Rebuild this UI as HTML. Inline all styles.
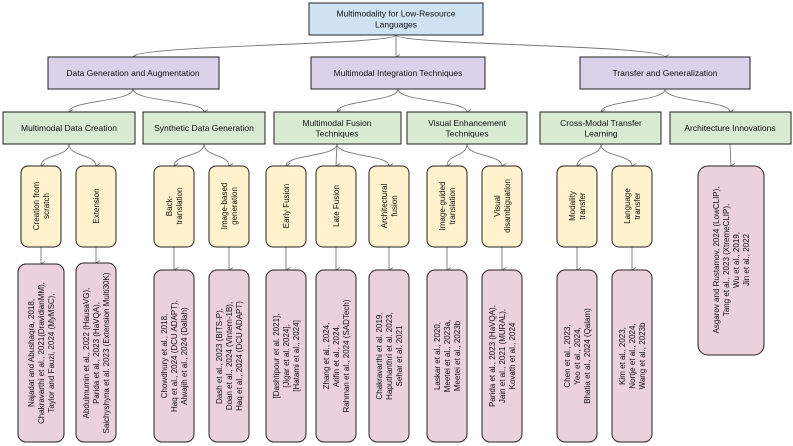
<!DOCTYPE html>
<html><head><meta charset="utf-8"><style>
html,body{margin:0;padding:0;background:#fff;}
svg{display:block;font-family:"Liberation Sans",Arial,sans-serif;}
text{font-size:8px;fill:#111;text-anchor:middle;}
.l2{font-size:8.5px;}
</style></head><body>
<svg width="793" height="446" viewBox="0 0 793 446" xmlns="http://www.w3.org/2000/svg">
<defs><marker id="a" markerWidth="6" markerHeight="6" refX="3" refY="5" orient="auto" markerUnits="userSpaceOnUse"><path d="M0.5,1 L3,5 L5.5,1" fill="none" stroke="#777" stroke-width="0.9"/></marker></defs>
<g fill="none" stroke="#777" stroke-width="0.9" marker-end="url(#a)">
<path d="M396,35 C396,45 133,45 133,57"/>
<path d="M396,35 L396,57"/>
<path d="M396,35 C396,45 665,45 665,57"/>
<path d="M133,89 C133,102 69,100 69,112"/>
<path d="M133,89 C133,102 204,100 204,112"/>
<path d="M398,89 C398,102 337,100 337,112"/>
<path d="M398,89 C398,102 467,100 467,112"/>
<path d="M665,89 C665,102 601,100 601,112"/>
<path d="M665,89 C665,102 730,100 730,112"/>
<path d="M69,144 C69,157 41,154 41,166"/>
<path d="M69,144 C69,157 96,154 96,166"/>
<path d="M204,144 C204,157 174,154 174,166"/>
<path d="M204,144 C204,157 229,154 229,166"/>
<path d="M337,144 C337,157 286,154 286,166"/>
<path d="M337,144 L336,166"/>
<path d="M337,144 C337,157 389,154 389,166"/>
<path d="M467,144 C467,157 447,154 447,166"/>
<path d="M467,144 C467,157 502,154 502,166"/>
<path d="M601,144 C601,157 577,154 577,166"/>
<path d="M601,144 C601,157 632,154 632,166"/>
<path d="M730,144 L731,166"/>
<path d="M41,247 L41,264"/><path d="M96,247 L96,263"/>
<path d="M174,247 L174,270"/><path d="M229,247 L229,270"/>
<path d="M286,247 L286,270"/><path d="M336,247 L336,270"/><path d="M389,247 L389,270"/>
<path d="M447,247 L447,270"/><path d="M502,247 L502,270"/>
<path d="M577,247 L577,270"/><path d="M632,247 L632,270"/>
</g>
<g stroke="#222" stroke-width="1">
<rect x="309" y="3" width="174" height="32" fill="#cfe2f3"/>
<rect x="48" y="57" width="171" height="32" fill="#d9d2e9"/>
<rect x="311" y="57" width="174" height="32" fill="#d9d2e9"/>
<rect x="580" y="57" width="170" height="32" fill="#d9d2e9"/>
<g fill="#d9ead3">
<rect x="3" y="112" width="132" height="32"/><rect x="143" y="112" width="122" height="32"/>
<rect x="274" y="112" width="127" height="32"/><rect x="407" y="112" width="120" height="32"/>
<rect x="540" y="112" width="121" height="32"/><rect x="670" y="112" width="121" height="32"/>
</g>
<g fill="#fff2cc">
<rect x="21" y="166" width="40" height="81" rx="7"/><rect x="76" y="166" width="40" height="81" rx="7"/>
<rect x="154" y="166" width="40" height="81" rx="7"/><rect x="209" y="166" width="40" height="81" rx="7"/>
<rect x="266" y="166" width="40" height="81" rx="7"/><rect x="316" y="166" width="40" height="81" rx="7"/>
<rect x="369" y="166" width="40" height="81" rx="7"/><rect x="427" y="166" width="40" height="81" rx="7"/>
<rect x="482" y="166" width="40" height="81" rx="7"/><rect x="557" y="166" width="40" height="81" rx="7"/>
<rect x="612" y="166" width="40" height="81" rx="7"/>
</g>
<g fill="#ead1dc">
<rect x="18" y="264" width="46" height="178" rx="8"/><rect x="76" y="263" width="40" height="179" rx="8"/>
<rect x="154" y="270" width="40" height="172" rx="8"/><rect x="209" y="270" width="40" height="172" rx="8"/>
<rect x="266" y="270" width="40" height="172" rx="8"/><rect x="316" y="270" width="40" height="172" rx="8"/>
<rect x="369" y="270" width="40" height="172" rx="8"/><rect x="427" y="270" width="40" height="172" rx="8"/>
<rect x="482" y="270" width="40" height="172" rx="8"/><rect x="557" y="270" width="40" height="172" rx="8"/>
<rect x="612" y="270" width="40" height="172" rx="8"/>
<rect x="698" y="166" width="66" height="189" rx="10"/>
</g>
</g>
<text x="396" y="16.5" class="l2">Multimodality for Low-Resource</text>
<text x="396" y="27.5" class="l2">Languages</text>
<text x="133" y="76" class="l2">Data Generation and Augmentation</text>
<text x="398" y="76" class="l2">Multimodal Integration Techniques</text>
<text x="665" y="76" class="l2">Transfer and Generalization</text>
<text x="69" y="131" class="l2">Multimodal Data Creation</text>
<text x="204" y="131" class="l2">Synthetic Data Generation</text>
<text x="337" y="126" class="l2">Multimodal Fusion</text><text x="337" y="136.5" class="l2">Techniques</text>
<text x="467" y="126" class="l2">Visual Enhancement</text><text x="467" y="136.5" class="l2">Techniques</text>
<text x="601" y="126" class="l2">Cross-Modal Transfer</text><text x="601" y="136.5" class="l2">Learning</text>
<text x="730" y="131" class="l2">Architecture Innovations</text>
<g transform="translate(41,206) rotate(-90)"><text y="-2">Creation from</text><text y="8">scratch</text></g>
<g transform="translate(96,206) rotate(-90)"><text y="3">Extension</text></g>
<g transform="translate(174,206) rotate(-90)"><text y="-2">Back-</text><text y="8">translation</text></g>
<g transform="translate(229,206) rotate(-90)"><text y="-2">Image-based</text><text y="8">generation</text></g>
<g transform="translate(286,206) rotate(-90)"><text y="3">Early Fusion</text></g>
<g transform="translate(336,206) rotate(-90)"><text y="3">Late Fusion</text></g>
<g transform="translate(389,206) rotate(-90)"><text y="-2">Architectural</text><text y="8">fusion</text></g>
<g transform="translate(447,206) rotate(-90)"><text y="-2">Image-guided</text><text y="8">translation</text></g>
<g transform="translate(502,206) rotate(-90)"><text y="-2">Visual</text><text y="8">disambiguation</text></g>
<g transform="translate(577,206) rotate(-90)"><text y="-2">Modality</text><text y="8">transfer</text></g>
<g transform="translate(632,206) rotate(-90)"><text y="-2">Language</text><text y="8">transfer</text></g>
<g transform="translate(41,353) rotate(-90)"><text y="-7">Najadat and Abushaqra, 2018,</text><text y="3">Chakravarthi et al., 2021(DravidianMM),</text><text y="13">Taylor and Fauzi, 2024 (MyMSC),</text></g>
<g transform="translate(96,353) rotate(-90)"><text y="-7">Abdulmumin et al., 2022 (HausaVG),</text><text y="3">Parida et al., 2023 (HaVQA),</text><text y="13">Saichyshyna et al. 2023 (Extension Multi30K)</text></g>
<g transform="translate(174,356) rotate(-90)"><text y="-7">Chowdhury et al., 2018,</text><text y="3">Haq et al., 2024 (DCU ADAPT),</text><text y="13">Alwajih et al., 2024 (Dallah)</text></g>
<g transform="translate(229,356) rotate(-90)"><text y="-7">Dash et al., 2023 (BITS-P),</text><text y="3">Doan et al., 2024 (Vintern-1B),</text><text y="13">Haq et al., 2024 (DCU ADAPT)</text></g>
<g transform="translate(286,356) rotate(-90)"><text y="-7">[Dashtipour et al. 2021],</text><text y="3">[Jigar et al. 2024],</text><text y="13">[Hatami et al., 2024]</text></g>
<g transform="translate(336,356) rotate(-90)"><text y="-7">Zhang et al., 2024,</text><text y="3">Arifin et al., 2024,</text><text y="13">Rahman et al., 2024 (SADTech)</text></g>
<g transform="translate(389,356) rotate(-90)"><text y="-7">Chakravarthi et al. 2019,</text><text y="3">Haputhanthri et al. 2023,</text><text y="13">Sehar et al. 2021</text></g>
<g transform="translate(447,356) rotate(-90)"><text y="-7">Laskar et al., 2020,</text><text y="3">Meetei et al., 2023a,</text><text y="13">Meetei et al., 2023b</text></g>
<g transform="translate(502,356) rotate(-90)"><text y="-7">Parida et al., 2023 (HaVQA),</text><text y="3">Jain et al., 2021 (MURAL),</text><text y="13">Kovath et al., 2024</text></g>
<g transform="translate(577,356) rotate(-90)"><text y="-7">Chen et al., 2023,</text><text y="3">Yeo et al., 2024,</text><text y="13">Bhatia et al., 2024 (Qalam)</text></g>
<g transform="translate(632,356) rotate(-90)"><text y="-7">Kim et al., 2023,</text><text y="3">Nortje et al., 2024,</text><text y="13">Wang et al., 2023b</text></g>
<g transform="translate(731,260) rotate(-90)"><text y="-12">Asgarov and Rustamov, 2024 (LowCLIP),</text><text y="-2">Tang et al., 2023 (XtremeCLIP),</text><text y="8">Wu et al., 2019,</text><text y="18">Jin et al., 2022</text></g>
</svg>
</body></html>
